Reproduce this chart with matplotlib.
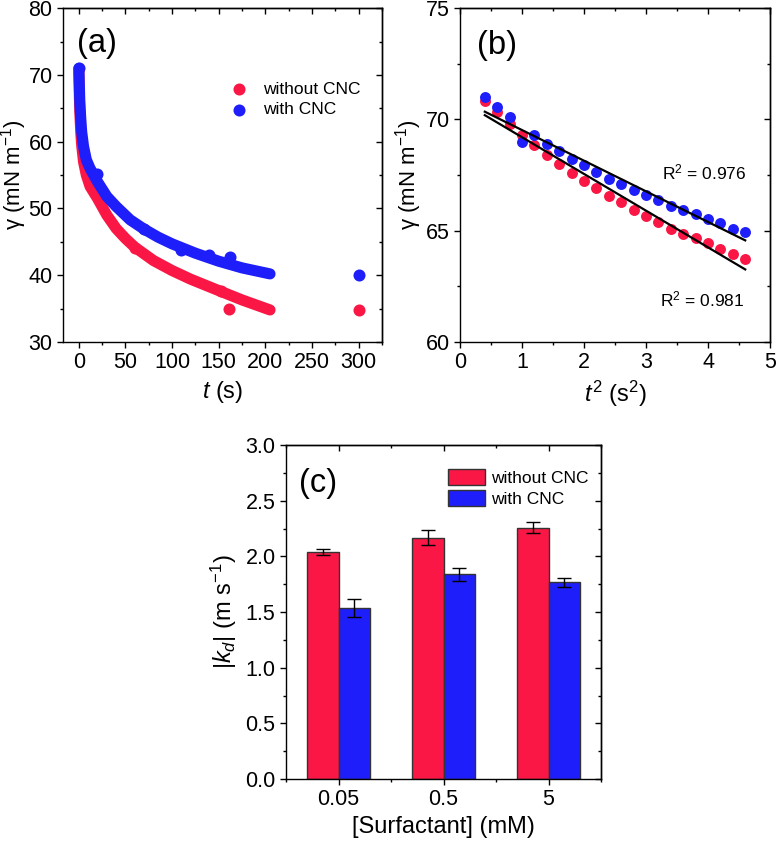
import matplotlib
matplotlib.use('Agg')
import matplotlib.pyplot as plt
import numpy as np
from matplotlib.ticker import MultipleLocator

plt.rcParams['font.family'] = ['Liberation Sans', 'DejaVu Sans']
plt.rcParams['mathtext.fontset'] = 'custom'
plt.rcParams['mathtext.rm'] = 'Liberation Sans'
plt.rcParams['mathtext.it'] = 'Liberation Sans:italic'
plt.rcParams['axes.linewidth'] = 1.0

RED = '#FA1745'
BLUE = '#1E1EFA'
TICK_FS = 15.5
LABEL_FS = 17
YLABEL_FS = 16

# (a) dynamic surface tension vs time
t_red = [0, 0.5, 1, 2, 3, 5, 8, 12, 20, 30, 40, 50, 60, 80, 100, 120, 150, 175, 205]
g_red = [70.5, 67, 64.5, 61.5, 59.5, 57, 55, 53.3, 51.5, 49, 47, 45.5, 44.2, 42.2,
         40.7, 39.4, 37.7, 36.3, 34.8]
t_blue = [0, 0.5, 1, 2, 3, 5, 8, 12, 20, 30, 40, 55, 70, 85, 100, 125, 150, 175, 205]
g_blue = [71, 68.5, 66, 63.5, 61.5, 59.3, 57.3, 56, 54, 51.8, 50.3, 48.3, 46.9, 45.7,
          44.7, 43.3, 42.1, 41.1, 40.2]
# isolated points
t_red_pts = [60, 152, 161, 300]
g_red_pts = [44.1, 37.6, 35.0, 34.8]
t_blue_pts = [0, 19, 70, 110, 140, 162, 300]
g_blue_pts = [71, 55.1, 46.9, 43.8, 43.0, 42.7, 40.0]

# (b) short-time regime
t2 = [0.4, 0.6, 0.8, 1.0, 1.2, 1.4, 1.6, 1.8, 2.0, 2.2, 2.4, 2.6, 2.8, 3.0, 3.2, 3.4,
      3.6, 3.8, 4.0, 4.2, 4.4, 4.6]
gb_red = [70.82, 70.33, 69.80, 69.30, 68.84, 68.39, 67.99, 67.61, 67.22, 66.93, 66.57,
          66.27, 65.94, 65.67, 65.40, 65.10, 64.87, 64.66, 64.43, 64.18, 63.94, 63.73]
gb_blue = [71.0, 70.54, 70.09, 68.99, 69.28, 68.90, 68.57, 68.24, 67.97, 67.64, 67.34,
           67.10, 66.82, 66.60, 66.36, 66.12, 65.91, 65.73, 65.52, 65.33, 65.10, 64.93]

# (c) kd bars
surf = ['0.05', '0.5', '5']
kd_red = [2.04, 2.17, 2.26]
kd_red_err = [0.03, 0.07, 0.05]
kd_blue = [1.54, 1.84, 1.77]
kd_blue_err = [0.08, 0.06, 0.04]

fig = plt.figure(figsize=(7.76, 8.43), dpi=100)
ax1 = fig.add_axes([0.0812, 0.5943, 0.411, 0.396])
ax2 = fig.add_axes([0.5928, 0.5943, 0.3995, 0.396])
ax3 = fig.add_axes([0.3686, 0.0759, 0.406, 0.396])


def style(ax):
    ax.tick_params(which='both', direction='out', labelsize=TICK_FS, width=1, pad=3)
    ax.tick_params(which='major', length=4.5)
    ax.tick_params(which='minor', length=2.5)
    ax.tick_params(which='both', top=False, right=False)
    sec_x = ax.secondary_xaxis('top')
    sec_y = ax.secondary_yaxis('right')
    for s in (sec_x, sec_y):
        s.tick_params(which='both', direction='in', width=1)
        s.tick_params(which='major', length=4.5)
        s.tick_params(which='minor', length=2.5)
    sec_x.xaxis.set_major_locator(ax.xaxis.get_major_locator())
    sec_x.xaxis.set_minor_locator(ax.xaxis.get_minor_locator())
    sec_y.yaxis.set_major_locator(ax.yaxis.get_major_locator())
    sec_y.yaxis.set_minor_locator(ax.yaxis.get_minor_locator())
    sec_x.set_xticklabels([])
    sec_y.set_yticklabels([])


# panel (a)
ax1.plot(t_red, g_red, color=RED, lw=8, solid_capstyle='round', solid_joinstyle='round')
ax1.scatter(t_red_pts, g_red_pts, s=75, color=RED, lw=0, label='without CNC')
ax1.plot(t_blue, g_blue, color=BLUE, lw=8, solid_capstyle='round', solid_joinstyle='round')
ax1.scatter(t_blue_pts, g_blue_pts, s=75, color=BLUE, lw=0, label='with CNC')
ax1.set_xlim(-17, 325)
ax1.set_ylim(30, 80)
ax1.xaxis.set_major_locator(MultipleLocator(50))
ax1.xaxis.set_minor_locator(MultipleLocator(25))
ax1.yaxis.set_major_locator(MultipleLocator(10))
ax1.yaxis.set_minor_locator(MultipleLocator(5))
ax1.set_xlabel(r'$t$ (s)', fontsize=LABEL_FS)
ax1.set_ylabel(r'γ (mN m$^{-1}$)', fontsize=YLABEL_FS)
ax1.yaxis.set_label_coords(-0.108, 0.5)
ax1.text(0.045, 0.895, '(a)', transform=ax1.transAxes, fontsize=23.5, va='center')
ax1.legend(loc='upper left', bbox_to_anchor=(0.53, 0.78), frameon=False, fontsize=12.5,
           handlelength=0.8, handletextpad=1.0, labelspacing=0.3, borderpad=0,
           borderaxespad=0, scatterpoints=1)
style(ax1)

# panel (b)
ax2.scatter(t2, gb_red, s=62, color=RED, lw=0, zorder=2)
ax2.scatter(t2, gb_blue, s=62, color=BLUE, lw=0, zorder=2)
xfit = np.array([t2[0], t2[-1]])
for yy in (gb_red, gb_blue):
    k, b = np.polyfit(t2, yy, 1)
    ax2.plot(xfit, k * xfit + b, color='black', lw=1.6, zorder=3)
ax2.text(3.26, 67.6, r'R$^2$ = 0.976', fontsize=12.5, va='center')
ax2.text(3.23, 61.9, r'R$^2$ = 0.981', fontsize=12.5, va='center')
ax2.set_xlim(0, 5)
ax2.set_ylim(60, 75)
ax2.xaxis.set_major_locator(MultipleLocator(1))
ax2.xaxis.set_minor_locator(MultipleLocator(0.5))
ax2.yaxis.set_major_locator(MultipleLocator(5))
ax2.yaxis.set_minor_locator(MultipleLocator(2.5))
ax2.set_xlabel(r'$t^2$ (s$^2$)', fontsize=LABEL_FS)
ax2.set_ylabel(r'γ (mN m$^{-1}$)', fontsize=YLABEL_FS)
ax2.yaxis.set_label_coords(-0.115, 0.5)
ax2.text(0.055, 0.889, '(b)', transform=ax2.transAxes, fontsize=23.5, va='center')
style(ax2)

# panel (c)
x = np.arange(len(surf))
w = 0.3
ax3.bar(x - w / 2, kd_red, w, color=RED, edgecolor='#333333', lw=1, label='without CNC')
ax3.bar(x + w / 2, kd_blue, w, color=BLUE, edgecolor='#333333', lw=1, label='with CNC')
ax3.errorbar(x - w / 2, kd_red, yerr=kd_red_err, fmt='none', ecolor='black', elinewidth=1,
             capsize=5, capthick=1)
ax3.errorbar(x + w / 2, kd_blue, yerr=kd_blue_err, fmt='none', ecolor='black', elinewidth=1,
             capsize=5, capthick=1)
ax3.set_xlim(-0.5, 2.5)
ax3.set_ylim(0, 3.0)
ax3.set_xticks(x)
ax3.set_xticklabels(surf)
ax3.xaxis.set_minor_locator(MultipleLocator(0.5))
ax3.yaxis.set_major_locator(MultipleLocator(0.5))
ax3.yaxis.set_minor_locator(MultipleLocator(0.25))
ax3.set_xlabel('[Surfactant] (mM)', fontsize=LABEL_FS)
ax3.set_ylabel(r'|$k_d$| (m s$^{-1}$)', fontsize=LABEL_FS)
ax3.yaxis.set_label_coords(-0.15, 0.5)
ax3.text(0.04, 0.886, '(c)', transform=ax3.transAxes, fontsize=23.5, va='center')
ax3.legend(loc='upper left', bbox_to_anchor=(0.514, 0.93), frameon=False, fontsize=12.5,
           handlelength=2.15, handleheight=1.05, handletextpad=0.35, labelspacing=0.25,
           borderpad=0, borderaxespad=0)
style(ax3)
ax3.tick_params(axis='x', which='minor', length=2.5)

fig.savefig('out.png', dpi=100)
